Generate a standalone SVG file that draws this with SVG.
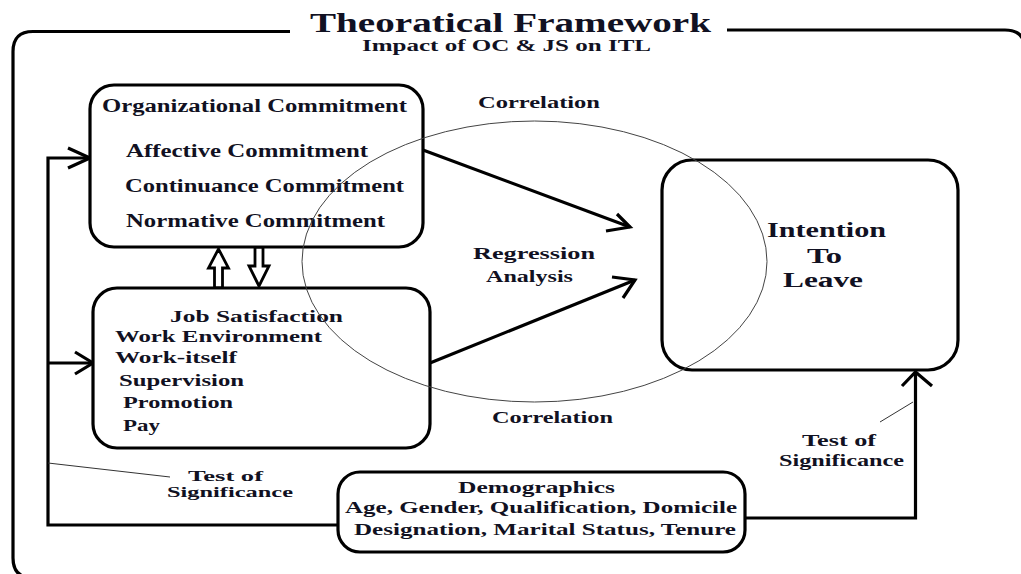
<svg xmlns="http://www.w3.org/2000/svg" width="1021" height="574" viewBox="0 0 1021 574">
<style>
text{font-family:"Liberation Serif","Times New Roman",serif;font-weight:bold;fill:#111122}
.box{fill:#fff;stroke:#000;stroke-width:3.2}
.ln{fill:none;stroke:#000;stroke-width:3.2}
.thin{fill:none;stroke:#333;stroke-width:1}
.hollow{fill:#fff;stroke:#000;stroke-width:2.8;stroke-linejoin:miter}
.head{fill:none;stroke:#000;stroke-width:3.2;stroke-linejoin:miter}
</style>
<rect width="1021" height="574" fill="#fff"/>

<g id="frame">
<path class="ln" d="M290 31.5 H33 Q13 31.5 13 51.5 V558 Q13 578 33 578"/>
<path class="ln" d="M727 30 H1005 Q1025 30 1025 50"/>
<text x="310" y="32" font-size="27" textLength="401" lengthAdjust="spacingAndGlyphs">Theoratical Framework</text>
<text x="362" y="51" font-size="16" textLength="289" lengthAdjust="spacingAndGlyphs">Impact of OC &amp; JS on ITL</text>
</g>

<g id="connectors">
<!-- left feedback lines -->
<path class="ln" d="M90 158 H48 V525 H338"/>
<path class="ln" d="M48 363 H92"/>
<path class="head" d="M68 148 L90 158 L68 168"/>
<path class="head" d="M75 352 L93 363 L75 374"/>
<!-- right line from demographics to ITL -->
<path class="ln" d="M745 518 H915.5 V373"/>
<path class="head" d="M902 386 L915.5 372 L932 386"/>
<!-- diagonal arrows -->
<path class="ln" d="M423 150 L630 227"/>
<path class="head" d="M606 231 L630 227 L617 214"/>
<path class="ln" d="M430 363 L635 280"/>
<path class="head" d="M612 277 L635 280 L623 298"/>
<!-- hollow arrows between OC and JS -->
<polygon class="hollow" points="214.5,288 214.5,268 208.5,268 218.5,249 228.5,268 222.5,268 222.5,288"/>
<polygon class="hollow" points="255,247 255,266 249,266 259,286 269,266 263,266 263,247"/>
<!-- leader lines -->
<path class="thin" d="M48 463 L170 477"/>
<path class="thin" d="M913 402 L880 422"/>
</g>

<g id="oc">
<rect class="box" x="90" y="85" width="333" height="162" rx="24"/>
<text x="102" y="112" font-size="18" textLength="305" lengthAdjust="spacingAndGlyphs">Organizational Commitment</text>
<text x="126" y="157" font-size="18" textLength="242" lengthAdjust="spacingAndGlyphs">Affective Commitment</text>
<text x="125" y="192" font-size="18" textLength="279" lengthAdjust="spacingAndGlyphs">Continuance Commitment</text>
<text x="126" y="227" font-size="18" textLength="259" lengthAdjust="spacingAndGlyphs">Normative Commitment</text>
</g>

<g id="js">
<rect class="box" x="93" y="288" width="337" height="160" rx="24"/>
<text x="170" y="322" font-size="17" textLength="173" lengthAdjust="spacingAndGlyphs">Job Satisfaction</text>
<text x="115" y="342" font-size="17" textLength="207" lengthAdjust="spacingAndGlyphs">Work Environment</text>
<text x="115" y="363" font-size="17" textLength="122" lengthAdjust="spacingAndGlyphs">Work-itself</text>
<text x="119" y="386" font-size="17" textLength="125" lengthAdjust="spacingAndGlyphs">Supervision</text>
<text x="123" y="408" font-size="17" textLength="110" lengthAdjust="spacingAndGlyphs">Promotion</text>
<text x="123" y="431" font-size="17" textLength="37" lengthAdjust="spacingAndGlyphs">Pay</text>
</g>

<g id="itl">
<rect class="box" x="662" y="160" width="296" height="210" rx="30"/>
<text x="767" y="237" font-size="21" textLength="119" lengthAdjust="spacingAndGlyphs">Intention</text>
<text x="807" y="263" font-size="21" textLength="35" lengthAdjust="spacingAndGlyphs">To</text>
<text x="783" y="287" font-size="21" textLength="80" lengthAdjust="spacingAndGlyphs">Leave</text>
</g>

<g id="demographics">
<rect class="box" x="338" y="472" width="407" height="80" rx="22"/>
<text x="458" y="493" font-size="17" textLength="157" lengthAdjust="spacingAndGlyphs">Demographics</text>
<text x="345" y="513" font-size="17" textLength="392" lengthAdjust="spacingAndGlyphs">Age, Gender, Qualification, Domicile</text>
<text x="354" y="535" font-size="17" textLength="382" lengthAdjust="spacingAndGlyphs">Designation, Marital Status, Tenure</text>
</g>

<g id="regression-circle">
<ellipse cx="534.5" cy="261.5" rx="232.5" ry="140.5" fill="none" stroke="#444" stroke-width="1"/>
</g>

<g id="labels">
<text x="478" y="108" font-size="17" textLength="122" lengthAdjust="spacingAndGlyphs">Correlation</text>
<text x="473" y="259" font-size="17" textLength="122" lengthAdjust="spacingAndGlyphs">Regression</text>
<text x="486" y="282" font-size="17" textLength="87" lengthAdjust="spacingAndGlyphs">Analysis</text>
<text x="492" y="423" font-size="17" textLength="121" lengthAdjust="spacingAndGlyphs">Correlation</text>
<text x="188" y="481" font-size="15" textLength="75" lengthAdjust="spacingAndGlyphs">Test of</text>
<text x="167" y="497" font-size="15" textLength="126" lengthAdjust="spacingAndGlyphs">Significance</text>
<text x="802" y="446" font-size="16" textLength="74" lengthAdjust="spacingAndGlyphs">Test of</text>
<text x="779" y="466" font-size="16" textLength="125" lengthAdjust="spacingAndGlyphs">Significance</text>
</g>
</svg>
